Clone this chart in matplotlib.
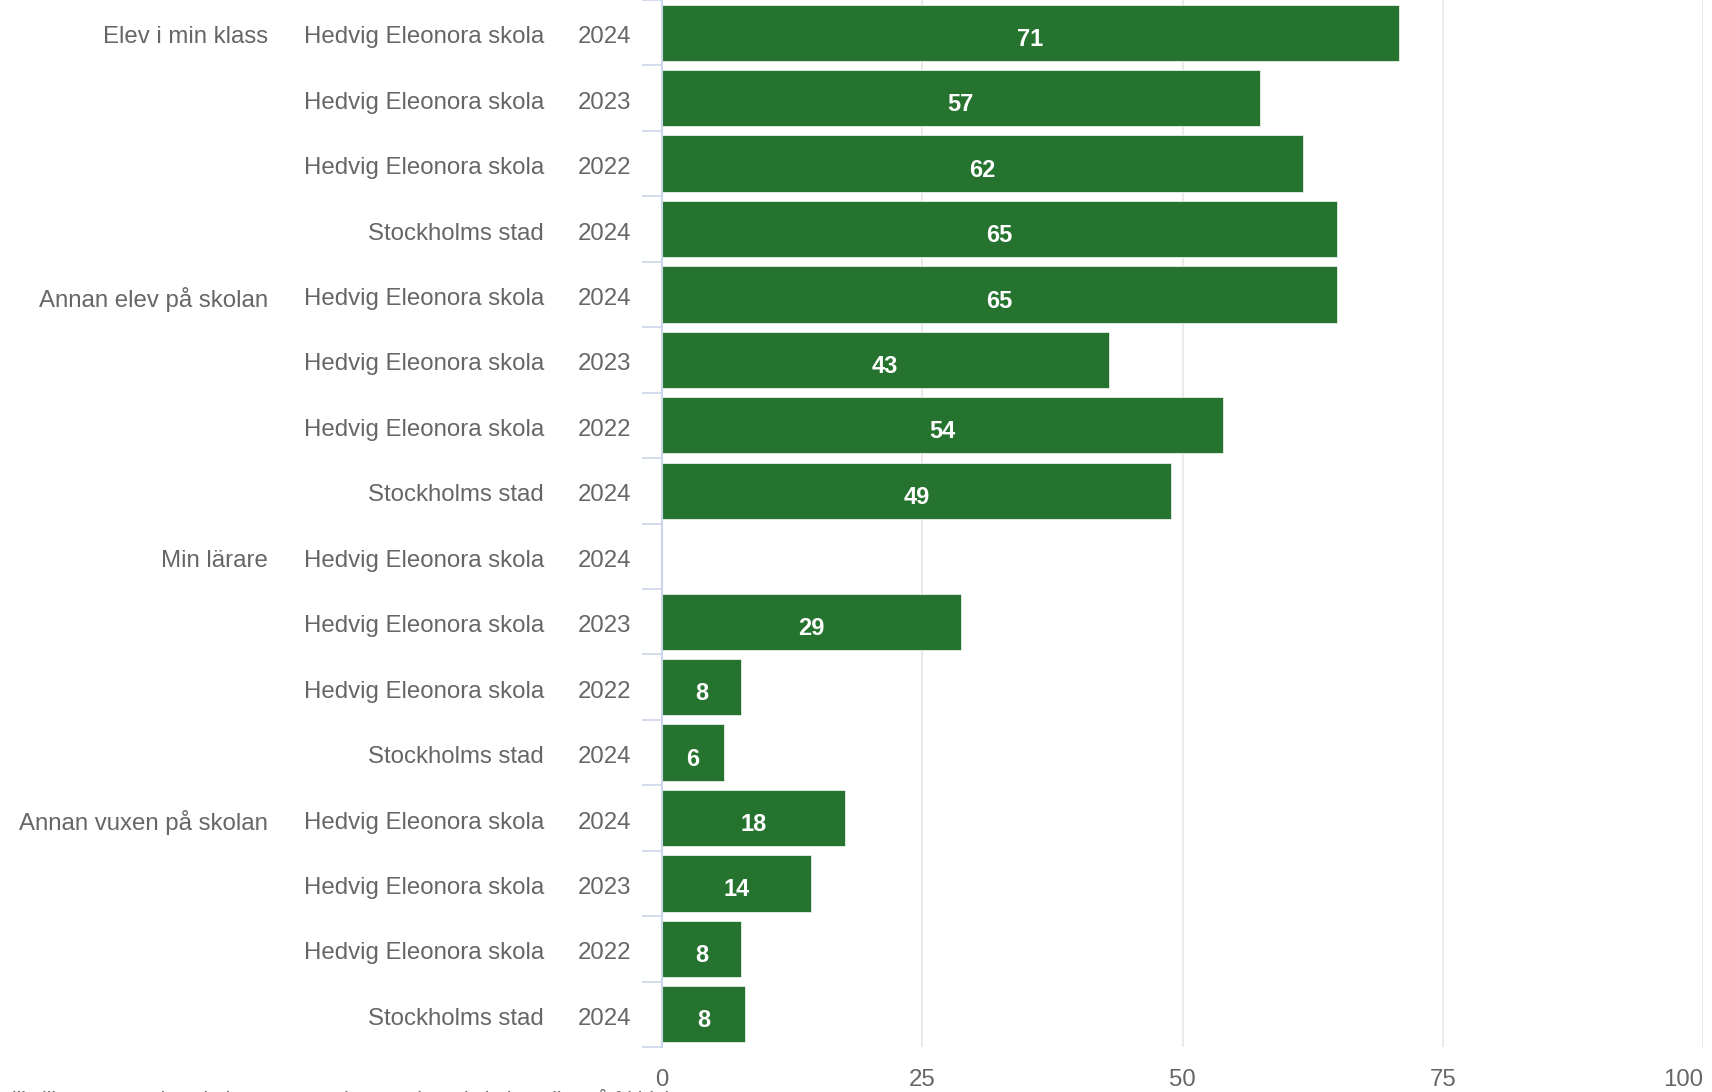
import matplotlib.pyplot as plt
import matplotlib.transforms as mtransforms
import numpy as np

plt.rcParams["font.family"] = ["Liberation Sans", "DejaVu Sans"]

# Data
groups = ["Elev i min klass", "Annan elev på skolan", "Min lärare", "Annan vuxen på skolan"]
units = ["Hedvig Eleonora skola", "Hedvig Eleonora skola", "Hedvig Eleonora skola", "Stockholms stad"]
years = ["2024", "2023", "2022", "2024"]
values = [
    70.8, 57.4, 61.6, 64.8,
    64.8, 42.9, 53.9, 48.9,
    np.nan, 28.7, 7.6, 5.96,
    17.6, 14.3, 7.6, 7.95,
]
xticks = [0, 25, 50, 75, 100]

BAR_COLOR = "#267330"
TEXT_COLOR = "#666666"
TICK_COLOR = "#ccd6eb"
GRID_COLOR = "#e6e6e6"

n = len(values)
ypos = np.arange(n)

fig = plt.figure(figsize=(17.12, 10.92), dpi=100)
ax = fig.add_axes([662 / 1712, 45 / 1092, (1703 - 662) / 1712, 1047 / 1092])

ax.barh(ypos, values, height=0.86, color=BAR_COLOR, edgecolor="#e8f0e8", linewidth=0.6, zorder=3)

for y, v in zip(ypos, values):
    if np.isnan(v):
        continue
    ax.text(v / 2, y + 0.1, f"{round(v)}", ha="center", va="center",
            color="white", fontsize=17, fontweight="bold", zorder=4)

ax.set_xlim(0, 100)
ax.set_ylim(n - 0.5, -0.5)

ax.set_xticks(xticks)
ax.set_xticklabels([str(t) for t in xticks])
ax.tick_params(axis="x", length=0, pad=16, labelsize=17.3, labelcolor=TEXT_COLOR)
labels = ax.get_xticklabels()
labels[-1].set_horizontalalignment("right")
labels[-1].set_x(100)
ax.grid(axis="x", color=GRID_COLOR, linewidth=1.2, zorder=0)

# band boundary ticks on y axis
ax.set_yticks(np.arange(-0.5, n, 1.0))
ax.set_yticklabels([])
ax.tick_params(axis="y", length=14.5, width=1.2, color=TICK_COLOR)

for side in ["top", "right", "bottom"]:
    ax.spines[side].set_visible(False)
ax.spines["left"].set_color(TICK_COLOR)
ax.spines["left"].set_linewidth(1.5)
ax.spines["left"].set_zorder(5)

# three-level category labels
trans = mtransforms.blended_transform_factory(fig.transFigure, ax.transData)
for i in range(n):
    g, k = divmod(i, 4)
    yt = i + 0.07
    ax.text(631 / 1712, yt, years[k], transform=trans, ha="right", va="center",
            fontsize=17.3, color=TEXT_COLOR)
    ax.text(544 / 1712, yt, units[k], transform=trans, ha="right", va="center",
            fontsize=17.3, color=TEXT_COLOR)
    if k == 0:
        ax.text(268 / 1712, yt, groups[g], transform=trans, ha="right", va="center",
                fontsize=17.3, color=TEXT_COLOR)

# footnote, mostly cut off by the bottom edge (as in the reference)
fig.text(0.0, 3 / 1092, "Till vilken person har du berättat om det som hänt i skolan eller på fritidshemmet?",
         ha="left", va="top", fontsize=15, color=TEXT_COLOR)

fig.savefig("out.png", dpi=100)
